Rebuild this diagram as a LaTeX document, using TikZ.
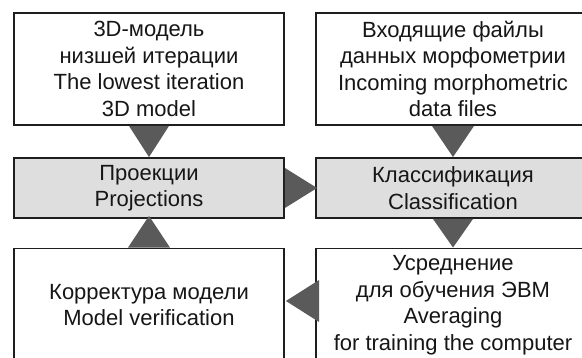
\documentclass[tikz,border=0pt]{standalone}
\usepackage{fontspec}
\setmainfont{Liberation Sans}
\usetikzlibrary{calc}
\definecolor{boxline}{HTML}{1E1E1E}
\definecolor{grayfill}{HTML}{DEDEDE}
\definecolor{arrowfill}{HTML}{5A5A5A}
\definecolor{txt}{HTML}{161616}
\begin{document}
\begin{tikzpicture}[x=1pt,y=1pt,
  box/.style={draw=boxline,line width=1.9pt,fill=white,inner sep=0pt,
    minimum width=#1,text=txt,align=center,
    font=\fontsize{22}{26.5}\selectfont},
  box/.default=270pt,
  graybox/.style={box=#1,fill=grayfill},
  graybox/.default=270pt,
  tri/.style={fill=arrowfill}]
\useasboundingbox (0,0) rectangle (582,358);
\fill[white] (0,0) rectangle (582,358);
% top row: y 233..345
\node[box, minimum height=112pt] (tl) at (149,289) {3D-модель\\низшей итерации\\The lowest iteration\\3D model};
\node[box=274pt, minimum height=112pt] (tr) at (453,289) {Входящие файлы\\данных морфометрии\\Incoming morphometric\\data files};
% middle row: y 140..200
\node[graybox, minimum height=60pt] (ml) at (149,170) {Проекции\\Projections};
\node[graybox=274pt, minimum height=60pt] (mr) at (453,170) {Классификация\\Classification};
% bottom row
\node[box, minimum height=113pt] (bl) at (149,53) {Корректура модели\\Model verification};
\node[box=274pt, minimum height=113pt] (br) at (453,53) {Усреднение\\для обучения ЭВМ\\Averaging\\for training the computer};
% arrows
\fill[tri] ($(tl.south)+(-20,0)$) -- ($(tl.south)+(20,0)$) -- (ml.north) -- cycle;
\fill[tri] ($(tr.south)+(-21,0)$) -- ($(tr.south)+(21,0)$) -- (mr.north) -- cycle;
\fill[tri] ($(ml.east)+(0,20)$) -- ($(ml.east)+(0,-20)$) -- ($(mr.west)+(2,0)$) -- cycle;
\fill[tri] ($(mr.south)+(-20,0)$) -- ($(mr.south)+(20,0)$) -- (br.north) -- cycle;
\fill[tri] ($(br.west)+(4,25)$) -- ($(br.west)+(4,-17)$) -- ($(bl.east)+(1,4)$) -- cycle;
\fill[tri] ($(bl.north)+(-21,0)$) -- ($(bl.north)+(21,0)$) -- ($(ml.south)+(0,3)$) -- cycle;
\end{tikzpicture}
\end{document}
